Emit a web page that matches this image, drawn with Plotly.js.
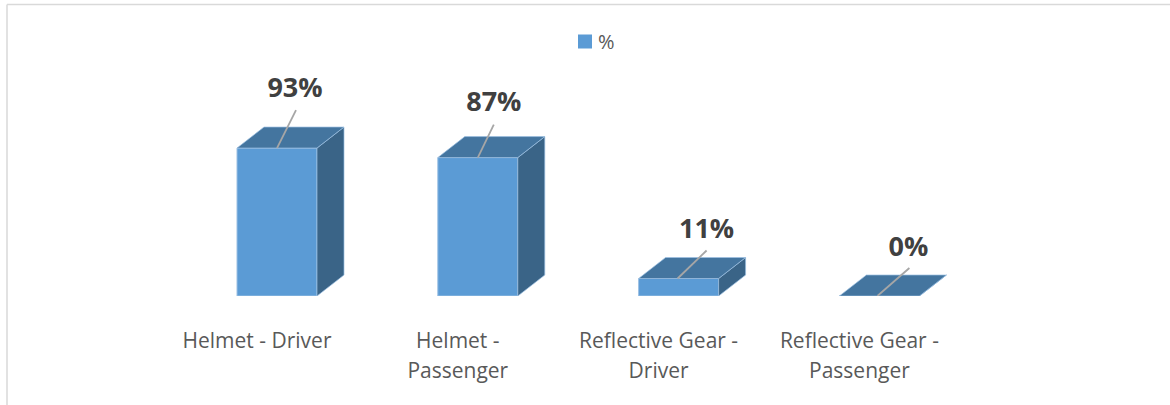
<!DOCTYPE html>
<html>
<head>
<meta charset="utf-8">
<script src="https://cdn.plot.ly/plotly-3.0.1.min.js"></script>
<style>html,body{margin:0;padding:0;background:#fff}#chart{width:1170px;height:405px}</style>
</head>
<body>
<div id="chart"></div>
<script>
// Data
const categories = ["Helmet - Driver", "Helmet -<br>Passenger", "Reflective Gear -<br>Driver", "Reflective Gear -<br>Passenger"];
const values = [93, 87, 11, 0];
const seriesName = "%";

// Scale and styling
const W = 1170, H = 405;
const plotBottom = 296;            // pixel row of the axis baseline
const catStep = 200.8, pxPerUnit = 1.591, firstTick = 257;
const barLeft = -20, barWidth = 80;   // px relative to tick
const depthX = 27, depthY = 21;    // px of the 3D depth
const leaderStart = [0, 0, -1, -2];
const leaderDX = [19, 16, 29, 32], leaderDY = [38, 33, 28, 28];
const labelDX = [18, 16, 28, 29], labelDY = [61, 56, 50, 50];
const ux = p => p / catStep, uy = p => p / pxPerUnit;
const cFront = "#5B9BD5", cTop = "#44759F", cSide = "#3A6487", cEdge = "#9CC0E3", cLead = "#A6A6A6";

const traces = [{
  type: "bar", name: seriesName, x: values.map((_, i) => i), y: values,
  width: ux(barWidth), offset: ux(barLeft),
  marker: {color: cFront, line: {color: cEdge, width: 1}},
  showlegend: true, hoverinfo: "skip"
}];
values.forEach((v, i) => {
  const x0 = i + ux(barLeft), x1 = x0 + ux(barWidth), dx = ux(depthX), dy = uy(depthY);
  traces.push({type: "scatter", mode: "lines", fill: "toself", fillcolor: cSide, showlegend: false, hoverinfo: "skip",
    x: [x1, x1 + dx, x1 + dx, x1, x1], y: [0, dy, v + dy, v, 0], line: {color: cEdge, width: 0.7}});
  traces.push({type: "scatter", mode: "lines", fill: "toself", fillcolor: cTop, showlegend: false, hoverinfo: "skip",
    x: [x0, x0 + dx, x1 + dx, x1, x0], y: [v, v + dy, v + dy, v, v], line: {color: cEdge, width: 0.7}});
  const cx = (x0 + x1) / 2 + ux(leaderStart[i]);
  traces.push({type: "scatter", mode: "lines", showlegend: false, hoverinfo: "skip",
    x: [cx, cx + ux(leaderDX[i])], y: [v, v + uy(leaderDY[i])], line: {color: cLead, width: 1.8}});
});
traces.push({type: "scatter", mode: "text", showlegend: false, hoverinfo: "skip",
  x: values.map((_, i) => i + ux(barLeft + barWidth / 2 + labelDX[i])),
  y: values.map((v, i) => v + uy(labelDY[i] - 3)),
  text: values.map(v => v + "%"), textposition: "middle center",
  textfont: {family: "Open Sans", size: 27, color: "#404040", weight: 700}});

const frame = {color: "#D9D9D9", width: 1.5};
const layout = {
  width: W, height: H, margin: {l: 0, r: 0, t: 0, b: 0},
  paper_bgcolor: "#fff", plot_bgcolor: "rgba(0,0,0,0)",
  font: {family: "Open Sans", color: "#595959"},
  bargap: 0,
  xaxis: {
    range: [-firstTick / catStep, (W - firstTick) / catStep], tickmode: "array",
    tickvals: categories.map((_, i) => i),
    ticktext: categories.map(c => '<span style="font-size:21px">' + c + "</span>"),
    tickfont: {family: "Open Sans", size: 23, color: "#595959"},
    ticks: "", ticklabelstandoff: 28, tickangle: 0, showgrid: false, zeroline: false, showline: false, fixedrange: true
  },
  yaxis: {domain: [1 - plotBottom / H, 1], range: [0, plotBottom / pxPerUnit], visible: false, fixedrange: true},
  legend: {orientation: "h", x: 565 / W, xanchor: "left", y: 1 - 22 / H, yanchor: "top",
    font: {family: "Open Sans", size: 20, color: "#595959"}, bgcolor: "rgba(0,0,0,0)"},
  shapes: [
    {type: "line", xref: "paper", yref: "paper", x0: 7 / W, x1: 1, y0: 1 - 4.5 / H, y1: 1 - 4.5 / H, line: frame},
    {type: "line", xref: "paper", yref: "paper", x0: 7 / W, x1: 7 / W, y0: 0, y1: 1 - 4.5 / H, line: frame}
  ]
};
Plotly.newPlot("chart", traces, layout, {displayModeBar: false, staticPlot: true}).then(gd => {
  // Tighten the legend key: larger swatch, smaller gap to its text
  gd.querySelectorAll(".legend .legendpoints path").forEach(p => {
    p.setAttribute("d", "M7,7H-7V-7H7Z");
    p.style.stroke = "none";
  });
  gd.querySelectorAll(".legend .legendtext").forEach(t => t.setAttribute("x", 33));
});
</script>
</body>
</html>
